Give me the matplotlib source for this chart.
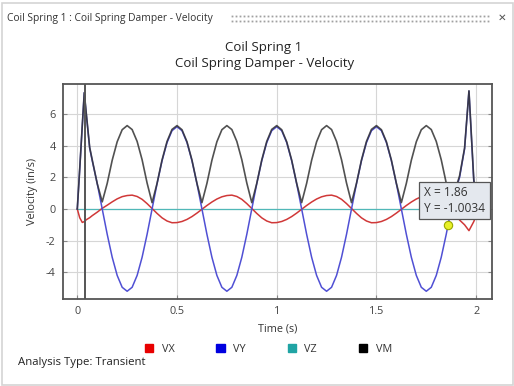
import matplotlib
matplotlib.use("Agg")
import matplotlib.pyplot as plt
from matplotlib.patches import Patch, Rectangle
from matplotlib.lines import Line2D

plt.rcParams['font.family'] = ['Open Sans', 'DejaVu Sans']

# ---------------- data ----------------
time = [0, 0.012, 0.025, 0.035, 0.045, 0.062,
        0.075, 0.1, 0.125, 0.15, 0.175, 0.2, 0.225, 0.25, 0.275, 0.3, 0.325, 0.35, 0.375,
        0.4, 0.425, 0.45, 0.475, 0.5, 0.525, 0.55, 0.575, 0.6, 0.625,
        0.65, 0.675, 0.7, 0.725, 0.75, 0.775, 0.8, 0.825, 0.85, 0.875,
        0.9, 0.925, 0.95, 0.975, 1.0, 1.025, 1.05, 1.075, 1.1, 1.125,
        1.15, 1.175, 1.2, 1.225, 1.25, 1.275, 1.3, 1.325, 1.35, 1.375,
        1.4, 1.425, 1.45, 1.475, 1.5, 1.525, 1.55, 1.575, 1.6, 1.625,
        1.65, 1.675, 1.7, 1.725, 1.75, 1.775, 1.8, 1.825, 1.85, 1.875,
        1.9, 1.917, 1.942, 1.964, 1.988, 2.0]

vx = [0, -0.55, -0.85, -0.8, -0.68, -0.55,
      -0.42, -0.2, 0.04, 0.24, 0.45, 0.64, 0.78, 0.85, 0.875, 0.79, 0.61, 0.34, 0.03,
      -0.28, -0.56, -0.76, -0.87, -0.86, -0.79, -0.66, -0.48, -0.26, -0.02,
      0.22, 0.44, 0.63, 0.77, 0.85, 0.875, 0.79, 0.61, 0.34, 0.03,
      -0.28, -0.56, -0.76, -0.87, -0.86, -0.79, -0.66, -0.48, -0.26, -0.02,
      0.22, 0.44, 0.63, 0.77, 0.85, 0.875, 0.79, 0.61, 0.34, 0.03,
      -0.28, -0.56, -0.76, -0.87, -0.86, -0.79, -0.66, -0.48, -0.26, -0.02,
      0.22, 0.44, 0.63, 0.77, 0.85, 0.875, 0.79, 0.61, 0.34, 0.03,
      -0.3, -0.7, -1.0, -1.37, -0.8, -0.4]

vy = [0, 2.5, 5.25, 7.35, 6.0, 3.85,
      3.05, 1.6, 0, -1.6, -3.05, -4.2, -4.95, -5.2, -4.95, -4.2, -3.05, -1.6, 0,
      1.6, 3.05, 4.2, 4.95, 5.2, 4.95, 4.2, 3.05, 1.6, 0,
      -1.6, -3.05, -4.2, -4.95, -5.2, -4.95, -4.2, -3.05, -1.6, 0,
      1.6, 3.05, 4.2, 4.95, 5.2, 4.95, 4.2, 3.05, 1.6, 0,
      -1.6, -3.05, -4.2, -4.95, -5.2, -4.95, -4.2, -3.05, -1.6, 0,
      1.6, 3.05, 4.2, 4.95, 5.2, 4.95, 4.2, 3.05, 1.6, 0,
      -1.6, -3.05, -4.2, -4.95, -5.2, -4.95, -4.2, -3.05, -1.6, 0,
      1.3, 2.0, 3.8, 7.45, 1.8, 0.4]

vz = [0] * len(time)

vm = [0, 2.5, 5.3, 7.35, 6.05, 3.9,
      3.1, 1.6, 0.45, 1.62, 3.08, 4.25, 5.01, 5.27, 5.02, 4.27, 3.11, 1.64, 0.4,
      1.62, 3.1, 4.27, 5.03, 5.27, 5.01, 4.25, 3.09, 1.62, 0.4,
      1.62, 3.08, 4.25, 5.01, 5.27, 5.02, 4.27, 3.11, 1.64, 0.4,
      1.62, 3.1, 4.27, 5.03, 5.27, 5.01, 4.25, 3.09, 1.62, 0.4,
      1.62, 3.08, 4.25, 5.01, 5.27, 5.02, 4.27, 3.11, 1.64, 0.4,
      1.62, 3.1, 4.27, 5.03, 5.27, 5.01, 4.25, 3.09, 1.62, 0.4,
      1.62, 3.08, 4.25, 5.01, 5.27, 5.02, 4.27, 3.11, 1.64, 0.45,
      1.4, 2.1, 3.85, 7.47, 1.9, 0.6]

series_names = ["VX", "VY", "VZ", "VM"]
xticks = [0, 0.5, 1, 1.5, 2]
xtick_labels = ["0", "0.5", "1", "1.5", "2"]
yticks = [-4, -2, 0, 2, 4, 6]
ytick_labels = ["-4", "-2", "0", "2", "4", "6"]
cursor_time = 0.039
probe_x = 1.86
probe_y = -1.0034

# ---------------- figure ----------------
W, H = 514, 386
fig = plt.figure(figsize=(W / 100, H / 100), dpi=100)
fig.patch.set_facecolor("white")

def fx(px):
    return px / W

def fy(py):
    return 1 - py / H

# window border
fig.add_artist(Rectangle((fx(1.5), fy(384.5)), fx(511), fy(2.5) - fy(384.5),
                         transform=fig.transFigure, fill=False, ec="#d4d4d4", lw=1.2))

# header
fig.text(fx(7), fy(18), "Coil Spring 1 : Coil Spring Damper - Velocity",
         fontsize=7.4, color="#333333", va="center", ha="left")
dot_x = [fx(232 + 4 * i) for i in range(65)]
for row in (15.5, 21.0):
    fig.add_artist(Line2D(dot_x, [fy(row)] * len(dot_x), transform=fig.transFigure,
                          ls="none", marker="s", ms=1.3, color="#a0a0a0", mew=0))
fig.text(fx(502), fy(18), "\u2715", fontsize=7.5, color="#555555", va="center", ha="center",
         family=["DejaVu Sans"])

# titles
fig.text(fx(264), fy(47), "Coil Spring 1", fontsize=9.5, color="#222222", ha="center", va="center")
fig.text(fx(265), fy(63), "Coil Spring Damper - Velocity", fontsize=9.5, color="#222222",
         ha="center", va="center")

# axes
ax = fig.add_axes([fx(62.7), fy(299), fx(491.7) - fx(62.7), fy(84) - fy(299)])
ax.set_xlim(-0.0732, 2.078)
ax.set_ylim(-5.69, 7.90)

ax.set_xticks(xticks)
ax.set_xticklabels(xtick_labels)
ax.set_yticks(yticks)
ax.set_yticklabels(ytick_labels)
ax.grid(True, color="#d6d6d6", lw=0.8)
ax.set_axisbelow(True)
ax.tick_params(axis="both", direction="in", length=3, width=0.8, color="#888888",
               labelsize=7.8, labelcolor="#444444", pad=5)
ax.tick_params(axis="y", right=True)
ax.tick_params(axis="x", top=False)
for sp in ax.spines.values():
    sp.set_color("#555555")
    sp.set_linewidth(1.3)

colors_line = {"VX": "#d03838", "VY": "#5050d4", "VZ": "#50b8b8", "VM": "#333333"}
ax.plot(time, vx, color=colors_line["VX"], lw=1.1, zorder=3)
ax.plot(time, vy, color=colors_line["VY"], lw=1.1, zorder=3)
ax.plot(time, vz, color=colors_line["VZ"], lw=0.9, zorder=2)
ax.plot(time, vm, color=colors_line["VM"], lw=1.2, alpha=0.85, zorder=4)
ax.axvline(cursor_time, color="#555555", lw=1.4, zorder=5)

ax.plot([probe_x], [probe_y], "o", ms=6, mfc="#e8f028", mec="#9aa800", mew=0.8, zorder=6,
        clip_on=False)

ax.set_xlabel("Time (s)", fontsize=7.8, color="#333333", labelpad=5)
ax.set_ylabel("Velocity (in/s)", fontsize=7.8, color="#333333", labelpad=6)

# tooltip
fig.text(fx(424), fy(200.5), "X = 1.86\nY = -1.0034", fontsize=8.6, color="#333333",
         ha="left", va="center", linespacing=1.25,
         bbox=dict(boxstyle="square,pad=0.38", fc="#e4e8ee", ec="#555555", lw=0.9), zorder=10)

# legend
legend_colors = ["#e80000", "#0000e0", "#20a4a4", "#000000"]
handles = [Patch(facecolor=c, edgecolor=c) for c in legend_colors]
fig.legend(handles, series_names, loc="center", bbox_to_anchor=(fx(268.5), fy(349)),
           ncol=4, frameon=False, fontsize=7.8, handlelength=0.75, handleheight=0.75,
           handletextpad=0.8, columnspacing=3.85, labelcolor="#333333")

fig.text(fx(18), fy(363), "Analysis Type: Transient", fontsize=8.2, color="#222222",
         ha="left", va="center")

fig.savefig("out.png", dpi=100)
